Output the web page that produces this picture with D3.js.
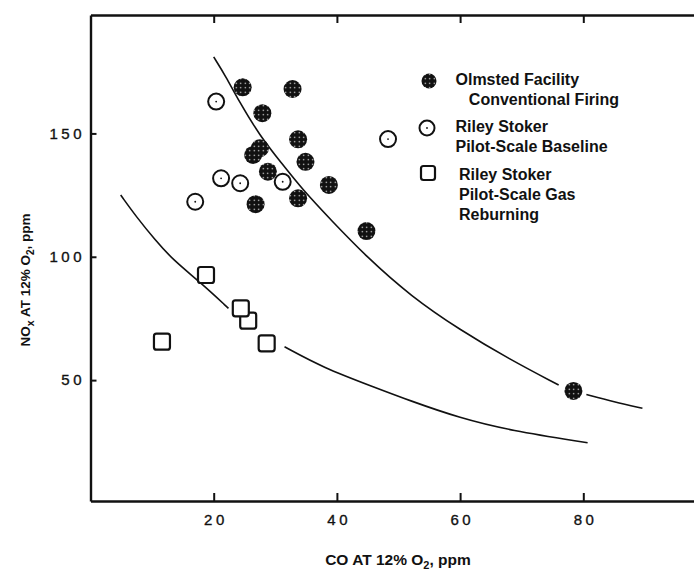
<!DOCTYPE html>
<html>
<head>
<meta charset="utf-8">
<script src="https://cdn.jsdelivr.net/npm/d3@7"></script>
<style>
  body { margin: 0; background: #fff; }
  svg { display: block; font-family: "Liberation Sans", Arial, sans-serif; }
</style>
</head>
<body>
<div id="chart"></div>
<script>
// dati (CO ppm, NOx ppm)
var olmsted = [
  [24.7, 168.7], [32.8, 168.0], [27.9, 158.2], [33.7, 147.6],
  [27.5, 144.0], [26.4, 141.3], [34.9, 138.5], [28.8, 134.5],
  [38.7, 129.1], [33.7, 123.7], [26.8, 121.3], [44.8, 110.4], [78.4, 45.6]
];
var rileyBaseline = [
  [20.4, 162.9], [21.2, 131.8], [24.3, 129.8], [17.0, 122.3], [31.2, 130.4], [48.3, 147.7]
];
var rileyReburn = [
  [18.75, 92.6], [25.6, 74.1], [24.4, 79.1], [11.6, 65.6], [28.6, 64.9]
];

// curve tracciate a mano nell'originale (spezzate dove passano i simboli)
var upperCurveA = [[20, 181], [22, 173], [24, 163.5], [27.5, 149], [31, 138], [34.5, 127],
  [39, 115], [44.8, 100], [52, 84], [60, 70.3], [68, 58.5], [76, 48]];
var upperCurveB = [[80.5, 44.2], [85, 41.2], [89.6, 38.6]];
var lowerCurveA = [[4.9, 125], [7.5, 116], [10.5, 106.8], [13.4, 98.7], [17.9, 89.5], [22.4, 79.1]];
var lowerCurveB = [[31.5, 63.5], [37.8, 55], [45.9, 47.3], [51.9, 41.6], [60, 34.6], [68.1, 29.6], [80.7, 24.6]];

var xTicks = [20, 40, 60, 80];
var yTicks = [50, 100, 150];

var legendItems = [
  {type: "filled", lines: ["Olmsted Facility", "   Conventional Firing"]},
  {type: "open", lines: ["Riley Stoker", "Pilot-Scale Baseline"]},
  {type: "square", lines: ["Riley Stoker", "Pilot-Scale Gas", "Reburning"]}
];

var width = 694, height = 571;

var svg = d3.select("#chart").append("svg")
  .attr("width", width)
  .attr("height", height);

svg.append("rect").attr("width", width).attr("height", height).attr("fill", "#fff");

// pattern puntinato per i cerchi pieni
var pat = svg.append("defs").append("pattern")
  .attr("id", "stip")
  .attr("patternUnits", "userSpaceOnUse")
  .attr("width", 4.5).attr("height", 4.5);
pat.append("rect").attr("width", 4.5).attr("height", 4.5).attr("fill", "#111");
pat.append("circle").attr("cx", 2.25).attr("cy", 2.25).attr("r", 0.7).attr("fill", "#fff");

var x = d3.scaleLinear().domain([0, 100]).range([90.5, 706.5]);
var y = d3.scaleLinear().domain([1, 198]).range([501, 15]);

// assi
var ls = 3.5; // spaziatura cifre
var gx = svg.append("g").attr("transform", "translate(0," + y(1) + ")")
  .call(d3.axisBottom(x).tickValues(xTicks).tickSize(-8).tickSizeOuter(0).tickPadding(13));
gx.selectAll("text").attr("dx", ls / 2).style("letter-spacing", ls + "px");

var gt = svg.append("g").attr("transform", "translate(0," + y(198) + ")")
  .call(d3.axisTop(x).tickValues(xTicks).tickSize(-8).tickSizeOuter(0).tickFormat(""));

var gy = svg.append("g").attr("transform", "translate(" + x(0) + ",0)")
  .call(d3.axisLeft(y).tickValues(yTicks).tickSize(-6).tickSizeOuter(0).tickPadding(9 - ls));
gy.selectAll("text").style("letter-spacing", ls + "px");

svg.selectAll(".domain").attr("stroke", "#111").attr("stroke-width", 2.4);
svg.selectAll(".tick line").attr("stroke", "#111").attr("stroke-width", 2);
svg.selectAll(".tick text").attr("fill", "#111")
  .style("font-size", "15px")
  .attr("stroke", "#111").attr("stroke-width", 0.35);

// titoli assi
var xt = svg.append("text")
  .attr("x", 398).attr("y", 565)
  .attr("text-anchor", "middle")
  .style("font-size", "15.5px").style("font-weight", "bold").attr("fill", "#111");
xt.append("tspan").text("CO AT 12% O");
xt.append("tspan").attr("dy", 4).style("font-size", "11px").text("2");
xt.append("tspan").attr("dy", -4).text(", ppm");

var yt = svg.append("text")
  .attr("transform", "translate(30,280) rotate(-90)")
  .attr("text-anchor", "middle")
  .style("font-size", "13.5px").style("font-weight", "bold").attr("fill", "#111");
yt.append("tspan").text("NO");
yt.append("tspan").attr("dy", 4).style("font-size", "10.5px").text("x");
yt.append("tspan").attr("dy", -4).text(" AT 12% O");
yt.append("tspan").attr("dy", 4).style("font-size", "10px").text("2");
yt.append("tspan").attr("dy", -4).text(", ppm");

// curve
var line = d3.line()
  .x(function(d) { return x(d[0]); })
  .y(function(d) { return y(d[1]); })
  .curve(d3.curveBasis);

[upperCurveA, upperCurveB, lowerCurveA, lowerCurveB].forEach(function(c) {
  svg.append("path")
    .datum(c)
    .attr("d", line)
    .attr("fill", "none")
    .attr("stroke", "#111")
    .attr("stroke-width", 1.6);
});

// simboli
function drawFilled(g, cx, cy, r) {
  g.append("circle").attr("cx", cx).attr("cy", cy).attr("r", r).attr("fill", "url(#stip)");
}
function drawOpen(g, cx, cy, r) {
  g.append("circle").attr("cx", cx).attr("cy", cy).attr("r", r)
    .attr("fill", "#fff").attr("stroke", "#111").attr("stroke-width", 2);
  g.append("circle").attr("cx", cx).attr("cy", cy).attr("r", 0.9).attr("fill", "#111");
}
function drawSquare(g, cx, cy, s) {
  g.append("rect").attr("x", cx - s / 2).attr("y", cy - s / 2)
    .attr("width", s).attr("height", s).attr("rx", 2.5)
    .attr("fill", "#fff").attr("stroke", "#111").attr("stroke-width", 2.2);
}

var marks = svg.append("g");
rileyBaseline.forEach(function(d) { drawOpen(marks, x(d[0]), y(d[1]), 8); });
olmsted.forEach(function(d) { drawFilled(marks, x(d[0]), y(d[1]), 9); });
rileyReburn.forEach(function(d) { drawSquare(marks, x(d[0]), y(d[1]), 16); });

// legenda
var legTop = [85, 132, 180];
var legendG = svg.append("g");
legendItems.forEach(function(item, i) {
  var by = legTop[i];
  if (item.type == "filled") drawFilled(legendG, 429, by - 4, 7.5);
  else if (item.type == "open") drawOpen(legendG, 427, by - 4, 7.5);
  else drawSquare(legendG, 428, by - 7, 14);
  item.lines.forEach(function(t, j) {
    legendG.append("text")
      .attr("x", item.type == "square" ? 459 : 455.5)
      .attr("y", by + j * 20)
      .attr("xml:space", "preserve")
      .style("white-space", "pre")
      .style("font-size", "16px").style("font-weight", "bold")
      .attr("fill", "#111")
      .text(t);
  });
});
</script>
</body>
</html>
